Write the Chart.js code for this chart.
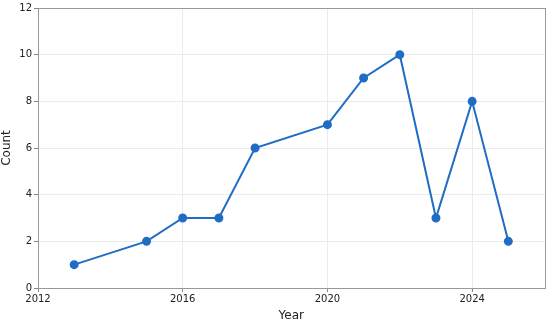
<!DOCTYPE html>
<html>
<head>
<meta charset="utf-8">
<script src="https://cdn.jsdelivr.net/npm/chart.js@4/dist/chart.umd.min.js"></script>
<style>
  html, body { margin: 0; padding: 0; background: #fff; }
  #wrap { width: 550px; height: 323px; }
</style>
</head>
<body>
<div id="wrap"><canvas id="linechart" width="550" height="323"></canvas></div>
<script>
// data
const years = [2013, 2015, 2016, 2017, 2018, 2020, 2021, 2022, 2023, 2024, 2025];
const counts = [1, 2, 3, 3, 6, 7, 9, 10, 3, 8, 2];
const xTicks = [2012, 2016, 2020, 2024];
const yTicks = [0, 2, 4, 6, 8, 10, 12];

const lineBlue = '#1f6dc4';

// draw a full box round the plot area, like matplotlib spines
const frame = {
    id: 'frame',
    afterDraw(chart) {
        const a = chart.chartArea;
        const c = chart.ctx;
        c.save();
        c.strokeStyle = '#999';
        c.lineWidth = 1;
        c.strokeRect(Math.round(a.left) + 0.5, Math.round(a.top) + 0.5,
                     Math.round(a.right - a.left), Math.round(a.bottom - a.top));
        c.restore();
    }
};

const ctx = document.getElementById('linechart').getContext('2d');
const chart = new Chart(ctx, {
    type: 'line',
    data: {
        datasets: [{
            label: 'Count',
            data: years.map((y, i) => ({ x: y, y: counts[i] })),
            borderColor: lineBlue,
            backgroundColor: lineBlue,
            borderWidth: 2,
            pointRadius: 3.5,
            pointHoverRadius: 3.5,
            tension: 0
        }]
    },
    options: {
        responsive: false,
        animation: false,
        layout: { padding: { top: 7, right: 5, left: 0, bottom: 0 } },
        plugins: { legend: { display: false }, tooltip: { enabled: false } },
        scales: {
            x: {
                type: 'linear',
                min: 2012,
                max: 2026,
                afterBuildTicks: s => { s.ticks = xTicks.map(v => ({ value: v })); },
                ticks: {
                    color: '#222',
                    font: { family: 'DejaVu Sans', size: 10 },
                    padding: 1,
                    callback: v => String(v)
                },
                grid: { color: '#ebebeb', tickColor: '#888', tickLength: 4 },
                border: { display: false },
                title: {
                    display: true, text: 'Year', color: '#222',
                    font: { family: 'DejaVu Sans', size: 12 },
                    padding: { top: 2, bottom: 0 }
                },
                afterFit: s => { s.height = 35; }
            },
            y: {
                min: 0,
                max: 12,
                afterBuildTicks: s => { s.ticks = yTicks.map(v => ({ value: v })); },
                ticks: {
                    color: '#222',
                    font: { family: 'DejaVu Sans', size: 10 },
                    padding: 2
                },
                grid: { color: '#ebebeb', tickColor: '#888', tickLength: 4 },
                border: { display: false },
                title: {
                    display: true, text: 'Count', color: '#222',
                    font: { family: 'DejaVu Sans', size: 12 },
                    padding: { top: 0, bottom: 2 }
                },
                afterFit: s => { s.width = 38; }
            }
        }
    },
    plugins: [frame]
});
</script>
</body>
</html>
